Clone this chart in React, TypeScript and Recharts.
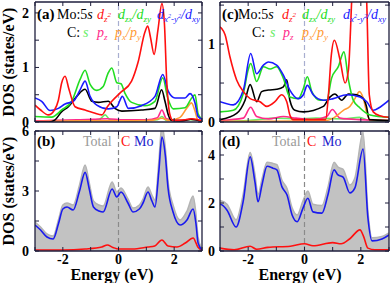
import React from 'react';
import { ComposedChart, Line, Area, XAxis, YAxis, ReferenceLine } from 'recharts';

type Pt = [number, number];

// ---- panel (a): Mo / C projected DOS, energy (eV) vs states/eV
const aCs: Pt[] = [[-3, 0.02], [-1.5, 0.02], [-0.7, 0.04], [-0.48, 0.13], [-0.3, 0.04], [0.5, 0.02], [1.4, 0.04], [1.56, 0.1], [1.72, 0.03], [2.6, 0.04], [3, 0.02]];
const aCpz: Pt[] = [[-3, 0.02], [-2.3, 0.03], [-1.5, 0.04], [-0.9, 0.05], [-0.4, 0.06], [0.2, 0.04], [1.0, 0.04], [1.4, 0.08], [1.56, 0.22], [1.72, 0.06], [2.2, 0.03], [2.6, 0.05], [3, 0.02]];
const aCpxy: Pt[] = [[-3, 0.01], [-1.2, 0.02], [0, 0.02], [1.2, 0.03], [1.56, 0.07], [1.8, 0.03], [2.2, 0.08], [2.45, 0.25], [2.62, 0.35], [2.75, 0.2], [2.85, 0.04], [3, 0.02]];
const aMo5s: Pt[] = [[-3, 0], [-2.5, 0], [-2.28, 0.04], [-2.04, 0.19], [-1.8, 0.28], [-1.5, 0.47], [-1.2, 0.6], [-0.96, 0.38], [-0.72, 0.36], [-0.37, 0.38], [-0.13, 0.25], [0.12, 0.2], [0.83, 0.22], [1.31, 0.25], [1.55, 0.59], [1.67, 0.38], [1.79, 0.13], [1.91, 0.03], [2.3, 0.02], [2.6, 0.05], [3, 0.01]];
const aDzx: Pt[] = [[-3, 0.1], [-2.4, 0.09], [-2.04, 0.22], [-1.68, 0.38], [-1.38, 0.78], [-1.2, 0.95], [-1.02, 0.69], [-0.78, 0.58], [-0.55, 0.65], [-0.37, 0.9], [-0.24, 0.99], [-0.06, 0.72], [0.09, 0.7], [0.23, 0.53], [0.47, 0.36], [0.95, 0.3], [1.31, 0.38], [1.59, 0.81], [1.77, 0.44], [1.97, 0.24], [2.39, 0.26], [2.63, 0.44], [2.75, 0.5], [2.86, 0.15], [3, 0.05]];
const aDx2: Pt[] = [[-3, 0.44], [-2.76, 0.38], [-2.46, 0.21], [-2.16, 0.25], [-1.92, 0.33], [-1.62, 0.38], [-1.38, 0.59], [-1.2, 0.75], [-1.02, 0.47], [-0.78, 0.31], [-0.37, 0.24], [-0.06, 0.28], [0.14, 0.47], [0.35, 0.25], [0.83, 0.3], [1.31, 0.47], [1.59, 0.87], [1.79, 0.56], [2.03, 0.44], [2.39, 0.44], [2.57, 0.52], [2.75, 0.35], [2.86, 0.1], [3, 0.05]];
const aDz2: Pt[] = [[-3, 0.31], [-2.8, 0.22], [-2.52, 0.13], [-2.3, 0.22], [-2.16, 0.4], [-2.04, 0.72], [-1.92, 0.84], [-1.78, 0.6], [-1.56, 0.28], [-1.2, 0.22], [-0.9, 0.17], [-0.6, 0.13], [-0.4, 0.28], [-0.24, 0.38], [0.05, 0.53], [0.47, 0.75], [0.7, 1.09], [0.95, 1.65], [1.05, 1.76], [1.15, 1.55], [1.28, 1.24], [1.42, 1.7], [1.56, 2.17], [1.65, 1.8], [1.73, 0.78], [1.85, 0.13], [1.96, 0.03], [2.4, 0.04], [2.63, 0.06], [3, 0.02]];

// ---- panel (c)
const cCs: Pt[] = [[-3, 0.01], [-2, 0.02], [-1.0, 0.05], [-0.3, 0.04], [0.4, 0.05], [1.4, 0.04], [1.95, 0.06], [2.3, 0.02], [3, 0.01]];
const cCpz: Pt[] = [[-3, 0.02], [-2.17, 0.05], [-1.91, 0.19], [-1.7, 0.07], [-1.28, 0.04], [-0.75, 0.07], [-0.3, 0.05], [0.31, 0.03], [0.79, 0.07], [0.99, 0.16], [1.26, 0.05], [2.0, 0.03], [3, 0.02]];
const cCpxy: Pt[] = [[-3, 0.01], [-1.5, 0.01], [0.8, 0.02], [1.02, 0.05], [1.38, 0.15], [1.61, 0.2], [1.79, 0.3], [1.95, 0.39], [2.09, 0.3], [2.21, 0.12], [2.33, 0.03], [3, 0.02]];
const cMo5s: Pt[] = [[-3, 0.03], [-2.41, 0.11], [-2.11, 0.28], [-1.93, 0.48], [-1.7, 0.26], [-1.52, 0.39], [-1.28, 0.41], [-0.99, 0.42], [-0.75, 0.45], [-0.63, 0.54], [-0.52, 0.28], [-0.34, 0.15], [-0.04, 0.13], [0.67, 0.2], [0.9, 0.32], [1.08, 0.36], [1.32, 0.28], [1.56, 0.36], [1.85, 0.35], [2.09, 0.3], [2.2, 0.2], [2.3, 0.03], [3, 0.02]];
const cDzx: Pt[] = [[-3, 0.13], [-2.53, 0.15], [-2.17, 0.37], [-2.0, 0.67], [-1.91, 0.75], [-1.7, 0.52], [-1.46, 0.71], [-1.22, 0.68], [-0.99, 0.71], [-0.75, 0.56], [-0.52, 0.32], [-0.22, 0.3], [-0.04, 0.43], [0.1, 0.58], [0.26, 0.39], [0.55, 0.28], [0.79, 0.28], [0.96, 0.56], [1.2, 0.71], [1.4, 0.9], [1.56, 0.54], [1.73, 0.28], [1.97, 0.18], [2.33, 0.09], [3, 0.06]];
const cDx2: Pt[] = [[-3, 0.26], [-2.53, 0.22], [-2.17, 0.41], [-1.91, 0.88], [-1.7, 0.62], [-1.46, 0.73], [-1.28, 0.77], [-0.99, 0.73], [-0.75, 0.6], [-0.52, 0.41], [-0.22, 0.3], [-0.04, 0.35], [0.1, 0.47], [0.31, 0.35], [0.67, 0.28], [1.02, 0.3], [1.5, 0.35], [1.97, 0.32], [2.21, 0.26], [2.44, 0.15], [2.68, 0.19], [3, 0.28]];
const cDz2: Pt[] = [[-3, 1.22], [-2.94, 1.2], [-2.82, 1.12], [-2.65, 0.84], [-2.41, 0.54], [-2.17, 0.39], [-1.93, 0.3], [-1.58, 0.26], [-1.34, 0.2], [-1.05, 0.26], [-0.81, 0.35], [-0.63, 0.26], [-0.52, 0.09], [-0.4, 0.03], [0.75, 0.03], [0.85, 0.35], [0.95, 0.85], [1.06, 1.05], [1.26, 0.8], [1.44, 0.5], [1.56, 0.67], [1.68, 1.6], [1.8, 2.6], [1.97, 2.9], [2.12, 2.5], [2.22, 1.4], [2.3, 0.35], [2.44, 0.13], [2.68, 0.08], [3, 0.06]];

// ---- panel (b): total / C / Mo
const bTotal: Pt[] = [[-3, 1.45], [-2.8, 1.2], [-2.57, 0.85], [-2.35, 0.75], [-2.15, 1.6], [-2.0, 2.3], [-1.85, 2.4], [-1.63, 2.3], [-1.4, 3.3], [-1.2, 4.3], [-1.05, 3.4], [-0.9, 2.5], [-0.7, 2.3], [-0.55, 2.25], [-0.23, 3.45], [-0.06, 2.95], [0.09, 3.15], [0.34, 2.6], [0.52, 2.15], [0.75, 2.3], [0.88, 2.6], [1.06, 3.2], [1.2, 2.8], [1.31, 2.55], [1.45, 4.5], [1.56, 6.3], [1.68, 5.2], [1.78, 3.5], [1.96, 2.3], [2.21, 1.55], [2.46, 2.0], [2.68, 2.75], [2.78, 1.9], [2.86, 0.7], [3, 0.1]];
const bC: Pt[] = [[-3, 0.05], [-2, 0.05], [-1.2, 0.1], [-0.6, 0.2], [-0.4, 0.3], [-0.2, 0.18], [0, 0.1], [0.5, 0.1], [1.06, 0.2], [1.3, 0.25], [1.56, 0.55], [1.78, 0.25], [2.1, 0.2], [2.4, 0.4], [2.68, 0.65], [2.85, 0.2], [3, 0.02]];
const bMo: Pt[] = [[-3, 1.3], [-2.8, 1.05], [-2.57, 0.7], [-2.35, 0.6], [-2.15, 1.4], [-2.0, 2.1], [-1.85, 2.2], [-1.63, 2.05], [-1.4, 3.0], [-1.2, 3.93], [-1.05, 3.1], [-0.9, 2.2], [-0.7, 2.0], [-0.55, 1.95], [-0.23, 3.1], [-0.06, 2.7], [0.09, 2.95], [0.34, 2.4], [0.52, 1.95], [0.75, 2.1], [0.88, 2.4], [1.06, 2.95], [1.2, 2.5], [1.31, 2.2], [1.45, 4.0], [1.56, 5.7], [1.68, 4.8], [1.78, 3.15], [1.96, 1.95], [2.21, 1.3], [2.46, 1.55], [2.68, 2.1], [2.78, 1.4], [2.86, 0.4], [3, 0.05]];

// ---- panel (d)
const dTotal: Pt[] = [[-3, 2.1], [-2.75, 1.95], [-2.43, 1.3], [-2.18, 2.35], [-1.93, 4.1], [-1.76, 3.2], [-1.65, 2.35], [-1.51, 3.0], [-1.33, 3.7], [-1.12, 3.65], [-0.98, 3.6], [-0.8, 2.95], [-0.62, 2.6], [-0.44, 1.8], [-0.26, 1.5], [-0.05, 2.1], [0.12, 2.5], [0.3, 1.95], [0.62, 1.9], [0.83, 2.65], [1.05, 3.7], [1.19, 3.5], [1.37, 3.4], [1.61, 2.75], [1.79, 3.05], [2.08, 4.95], [2.25, 1.7], [2.4, 0.55], [2.75, 0.6], [3, 0.75]];
const dC: Pt[] = [[-3, 0.12], [-2.5, 0.05], [-1.93, 0.2], [-1.7, 0.07], [-1.3, 0.15], [-0.5, 0.2], [0, 0.3], [0.3, 0.22], [1.0, 0.35], [1.3, 0.3], [1.6, 0.5], [1.97, 0.88], [2.1, 0.6], [2.25, 0.12], [2.5, 0.05], [3, 0.05]];
const dMo: Pt[] = [[-3, 1.95], [-2.93, 1.92], [-2.75, 1.7], [-2.43, 1.0], [-2.18, 2.05], [-1.93, 3.92], [-1.76, 2.88], [-1.65, 2.05], [-1.51, 2.75], [-1.33, 3.53], [-1.12, 3.45], [-0.98, 3.38], [-0.8, 2.67], [-0.62, 2.33], [-0.44, 1.5], [-0.26, 1.22], [-0.05, 1.8], [0.12, 2.2], [0.3, 1.63], [0.62, 1.58], [0.83, 2.33], [1.05, 3.38], [1.19, 3.17], [1.37, 3.08], [1.61, 2.42], [1.79, 2.63], [2.08, 4.25], [2.25, 1.4], [2.4, 0.42], [2.75, 0.5], [3, 0.67]];

const xTicks = [-3, -2, -1, 0, 1, 2, 3];
const xLabels = [-2, 0, 2];

const SERIF = 'Liberation Serif, Tinos, Times New Roman, DejaVu Serif, serif';
const FRAME = '#1e1e3c';

const COL = {
  dz2: '#ff1010',
  dzx: '#22dd22',
  dx2: '#1a1aff',
  mo5s: '#000000',
  cs: '#66ee66',
  cpz: '#ff2a8a',
  cpxy: '#ff9a33',
  total: '#9a9a9a',
};

function buildTable(series: Record<string, Pt[]>) {
  const rows = new Map<number, any>();
  Object.entries(series).forEach(([key, pts]) => {
    pts.forEach(([e, v]) => {
      const r = rows.get(e) ?? { e };
      r[key] = v;
      rows.set(e, r);
    });
  });
  return Array.from(rows.values()).sort((a, b) => a.e - b.e);
}

interface PanelProps {
  left: number;
  top: number;
  width: number;
  height: number;
  yAxisW: number;
  topH: number;
  bottomH: number;
  yDomain: [number, number];
  yTicks: number[];
  yLabels: number[];
  labelX: boolean;
  yMargin: number;
  dashColor: string;
  lines: { key: string; data: Pt[]; color: string }[];
  area?: Pt[];
}

const Panel: React.FC<PanelProps> = (p) => {
  const series: Record<string, Pt[]> = {};
  p.lines.forEach(l => { series[l.key] = l.data; });
  if (p.area) series.total = p.area;
  const table = buildTable(series);
  const tickStyle = { fill: '#000', fontSize: 14, fontWeight: 'bold', fontFamily: SERIF };

  return (
    <div style={{ position: 'absolute', left: p.left, top: p.top }}>
      <ComposedChart width={p.width} height={p.height} data={table}
        margin={{ top: 0, right: 0, bottom: 0, left: 0 }}>
        <XAxis dataKey="e" type="number" domain={[-3, 3]} ticks={xTicks} interval={0}
          allowDataOverflow height={p.bottomH} tickSize={-4} tickMargin={7}
          axisLine={{ stroke: FRAME, strokeWidth: 1.3 }} tickLine={{ stroke: FRAME }}
          tick={tickStyle}
          tickFormatter={(v: number) => (p.labelX && xLabels.includes(v) ? String(v) : '')} />
        <XAxis xAxisId="t" orientation="top" dataKey="e" type="number" domain={[-3, 3]} ticks={xTicks}
          interval={0} allowDataOverflow height={p.topH} tickSize={-4}
          axisLine={{ stroke: FRAME, strokeWidth: 1.3 }} tickLine={{ stroke: FRAME }}
          tickFormatter={() => ''} />
        <YAxis yAxisId="l" type="number" domain={p.yDomain} ticks={p.yTicks} interval={0}
          allowDataOverflow width={p.yAxisW} tickSize={-4} tickMargin={p.yMargin}
          axisLine={{ stroke: FRAME, strokeWidth: 1.3 }} tickLine={{ stroke: FRAME }}
          tick={tickStyle}
          tickFormatter={(v: number) => (p.yLabels.includes(v) ? String(v) : '')} />
        <YAxis yAxisId="r" orientation="right" type="number" domain={p.yDomain} ticks={p.yTicks}
          interval={0} allowDataOverflow width={3} tickSize={-4}
          axisLine={{ stroke: FRAME, strokeWidth: 1.3 }} tickLine={{ stroke: FRAME }}
          tickFormatter={() => ''} />
        {p.area && (
          <Area yAxisId="l" type="monotone" dataKey="total" connectNulls
            stroke="#b4b4b4" strokeWidth={1.5} fill="#c2c2c2" fillOpacity={1}
            dot={false} activeDot={false} isAnimationActive={false} />
        )}
        <ReferenceLine yAxisId="l" x={0} stroke={p.dashColor} strokeWidth={1.2} strokeDasharray="5 3" />
        {p.lines.map(l => (
          <Line key={l.key} yAxisId="l" type="monotone" dataKey={l.key} connectNulls
            stroke={l.color} strokeWidth={1.6} dot={false} activeDot={false}
            isAnimationActive={false} />
        ))}
      </ComposedChart>
    </div>
  );
};

const topLines = (cs: Pt[], cpz: Pt[], cpxy: Pt[], mo: Pt[], dzx: Pt[], dx2: Pt[], dz2: Pt[]) => [
  { key: 'cs', data: cs, color: COL.cs },
  { key: 'cpz', data: cpz, color: COL.cpz },
  { key: 'cpxy', data: cpxy, color: COL.cpxy },
  { key: 'mo5s', data: mo, color: COL.mo5s },
  { key: 'dzx', data: dzx, color: COL.dzx },
  { key: 'dx2', data: dx2, color: COL.dx2 },
  { key: 'dz2', data: dz2, color: COL.dz2 },
];

// legend rows for the upper panels
const OrbitalLegend: React.FC<{ tag: string; x: number[]; x2: number[] }> = ({ tag, x, x2 }) => {
  const y1 = 19;
  const y2 = 37;
  const sub = { fontSize: 9 };
  return (
    <g fontFamily={SERIF} fontSize={14}>
      <text x={x[0]} y={y1} fontWeight="bold" fontSize={15}>{tag}</text>
      <text x={x[1]} y={y1}>Mo:5<tspan fontStyle="italic">s</tspan></text>
      <text x={x[2]} y={y1} fill={COL.dz2} fontStyle="italic">d<tspan dy={3} {...sub}>z</tspan><tspan dy={-5} fontSize={7}>2</tspan></text>
      <text x={x[3]} y={y1} fill={COL.dzx} fontStyle="italic">d<tspan dy={3} {...sub}>zx</tspan><tspan dy={-3}>/d</tspan><tspan dy={3} {...sub}>zy</tspan></text>
      <text x={x[4]} y={y1} fill={COL.dx2} fontStyle="italic">d<tspan dy={3} {...sub}>x</tspan><tspan dy={-4} fontSize={6}>2</tspan><tspan dy={4} {...sub}>-y</tspan><tspan dy={-4} fontSize={6}>2</tspan><tspan dy={1}>/d</tspan><tspan dy={3} {...sub}>xy</tspan></text>
      <text x={x2[0]} y={y2}>C:</text>
      <text x={x2[1]} y={y2} fill={COL.cs} fontStyle="italic">s</text>
      <text x={x2[2]} y={y2} fill={COL.cpz} fontStyle="italic">p<tspan dy={3} {...sub}>z</tspan></text>
      <text x={x2[3]} y={y2} fill={COL.cpxy} fontStyle="italic">p<tspan dy={3} {...sub}>x</tspan><tspan dy={-3}>/p</tspan><tspan dy={3} {...sub}>y</tspan></text>
    </g>
  );
};

const TotalLegend: React.FC<{ tag: string; x: number[] }> = ({ tag, x }) => (
  <g fontFamily={SERIF} fontSize={14}>
    <text x={x[0]} y={146} fontWeight="bold" fontSize={15}>{tag}</text>
    <text x={x[1]} y={146} fill={COL.total}>Total</text>
    <text x={x[2]} y={146} fill="#ff1010">C</text>
    <text x={x[3]} y={146} fill="#1a1acc">Mo</text>
  </g>
);

export default function App() {
  return (
    <div style={{ position: 'absolute', left: 0, top: 0, width: 392, height: 283, background: '#fff', overflow: 'hidden', fontFamily: SERIF }}>
      <Panel left={0} top={0} width={205} height={140} yAxisW={35} topH={2} bottomH={18}
        yDomain={[0, 2.2]} yTicks={[0, 0.5, 1, 1.5, 2]} yLabels={[0, 1, 2]} labelX={false} yMargin={10}
        dashColor="#a8aed0" lines={topLines(aCs, aCpz, aCpxy, aMo5s, aDzx, aDx2, aDz2)} />
      <Panel left={202} top={0} width={190} height={140} yAxisW={18} topH={2} bottomH={18}
        yDomain={[0, 1.54]} yTicks={[0, 0.5, 1, 1.5]} yLabels={[0, 1]} labelX={false} yMargin={9}
        dashColor="#a8aed0" lines={topLines(cCs, cCpz, cCpxy, cMo5s, cDzx, cDx2, cDz2)} />
      <Panel left={0} top={112} width={205} height={171} yAxisW={35} topH={19} bottomH={32}
        yDomain={[0, 6]} yTicks={[0, 1.5, 3, 4.5, 6]} yLabels={[0, 3, 6]} labelX yMargin={10}
        dashColor="#8a8a8a" area={bTotal}
        lines={[{ key: 'c', data: bC, color: '#ff1010' }, { key: 'mo', data: bMo, color: '#1a1aee' }]} />
      <Panel left={202} top={112} width={190} height={171} yAxisW={18} topH={19} bottomH={32}
        yDomain={[0, 5]} yTicks={[0, 1, 2, 3, 4, 5]} yLabels={[0, 2, 4]} labelX yMargin={9}
        dashColor="#8a8a8a" area={dTotal}
        lines={[{ key: 'c', data: dC, color: '#ff1010' }, { key: 'mo', data: dMo, color: '#1a1aee' }]} />

      <svg width={392} height={283} style={{ position: 'absolute', left: 0, top: 0, pointerEvents: 'none' }}>
        <OrbitalLegend tag="(a)" x={[37, 57, 97, 118, 157]} x2={[67, 83, 97, 115]} />
        <OrbitalLegend tag="(c)" x={[222, 238, 282, 302, 343]} x2={[252, 270, 283, 302]} />
        <TotalLegend tag="(b)" x={[37, 83, 121, 134]} />
        <TotalLegend tag="(d)" x={[222, 272, 307, 322]} />
        <g fontFamily={SERIF} fontWeight="bold" fontSize={16} fill="#000">
          <text transform="translate(14,62) rotate(-90)" textAnchor="middle">DOS (states/eV)</text>
          <text transform="translate(14,191) rotate(-90)" textAnchor="middle">DOS (states/eV)</text>
          <text x={112} y={280} textAnchor="middle">Energy (eV)</text>
          <text x={300} y={280} textAnchor="middle">Energy (eV)</text>
        </g>
      </svg>
    </div>
  );
}
